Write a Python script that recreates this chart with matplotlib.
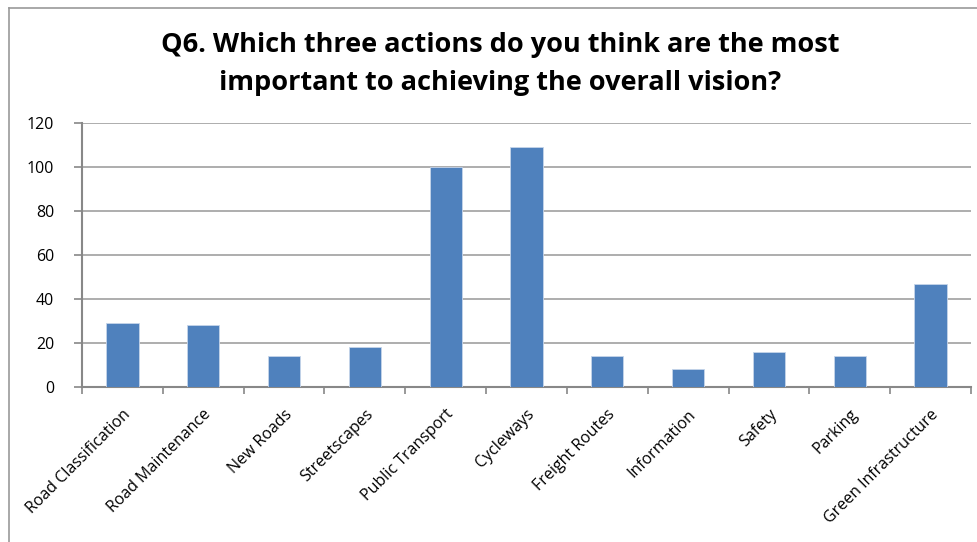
import matplotlib
matplotlib.use("Agg")
import matplotlib.pyplot as plt
from matplotlib.lines import Line2D
import numpy as np

categories = ["Road Classification", "Road Maintenance", "New Roads", "Streetscapes",
              "Public Transport", "Cycleways", "Freight Routes", "Information",
              "Safety", "Parking", "Green Infrastructure"]
values = [29, 28, 14, 18, 100, 109, 14, 8, 16, 14, 47]
yticks = [0, 20, 40, 60, 80, 100, 120]
title = "Q6. Which three actions do you think are the most\nimportant to achieving the overall vision?"

plt.rcParams['font.family'] = ['Open Sans', 'DejaVu Sans']

W, H = 978, 542
fig = plt.figure(figsize=(W/100, H/100), dpi=100)
ax = fig.add_axes([82/W, 1-387/H, (971-82)/W, (387-123)/H])

x = np.arange(len(categories))
ax.bar(x, values, width=0.4, color="#4f81bd", edgecolor="#c6d5ea", linewidth=0.6, zorder=3)

ax.set_xlim(-0.5, len(categories)-0.5)
ax.set_ylim(0, 120)
ax.set_yticks(yticks)
ax.set_yticklabels([str(t) for t in yticks], fontsize=11.5)
ax.yaxis.grid(True, color="#a0a0a0", linewidth=1.2, zorder=0)
ax.set_axisbelow(True)

ax.set_xticks(x)
ax.set_xticklabels(categories, rotation=45, ha="right", rotation_mode="anchor", fontsize=11.5)
ax.tick_params(axis="x", which="major", length=0, pad=14)
ax.set_xticks(np.arange(-0.5, len(categories)), minor=True)
ax.tick_params(axis="x", which="minor", length=5, color="#888888", width=1.2, direction="out")
ax.tick_params(axis="y", length=6, color="#888888", width=1.2, pad=14)

for s in ["top", "right"]:
    ax.spines[s].set_visible(False)
for s in ["left", "bottom"]:
    ax.spines[s].set_color("#888888")
    ax.spines[s].set_linewidth(1.5)

fig.text(500/W, 1-64/H, title, ha="center", va="center", fontsize=19.5,
         fontweight="bold", linespacing=1.55)

# chart border
fig.add_artist(Line2D([9/W, 1], [1-8/H, 1-8/H], transform=fig.transFigure, color="#999999", lw=1.2))
fig.add_artist(Line2D([9/W, 9/W], [0, 1-8/H], transform=fig.transFigure, color="#999999", lw=1.2))

fig.savefig("out.png", dpi=100)
